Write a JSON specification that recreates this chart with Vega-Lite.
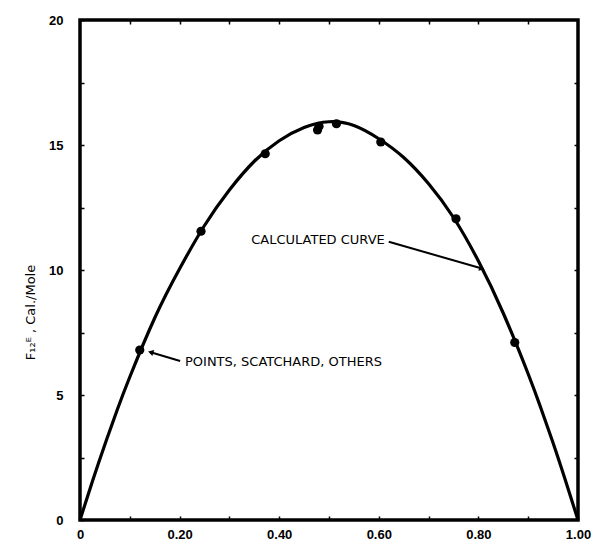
{
  "$schema": "https://vega.github.io/schema/vega-lite/v6.json",
  "width": 498,
  "height": 500,
  "autosize": {"type": "none"},
  "padding": {"left": 80, "top": 20, "right": 15, "bottom": 25},
  "background": "white",
  "config": {
    "view": {"stroke": "black", "strokeWidth": 3.5},
    "axis": {
      "domain": false,
      "grid": false,
      "labelFont": "Liberation Sans",
      "labelFontSize": 13,
      "labelFontWeight": "bold",
      "labelColor": "black",
      "tickColor": "black",
      "tickWidth": 1.5,
      "tickSize": -4,
      "titleFont": "DejaVu Sans",
      "titleFontWeight": "normal",
      "titleFontSize": 13,
      "titleColor": "black"
    }
  },
  "datasets": {
    "curve": [
      {"x": 0.0, "y": 0.0},
      {"x": 0.025, "y": 1.55},
      {"x": 0.05, "y": 3.02},
      {"x": 0.075, "y": 4.42},
      {"x": 0.1, "y": 5.72},
      {"x": 0.15, "y": 8.08},
      {"x": 0.2, "y": 10.05},
      {"x": 0.25, "y": 11.78},
      {"x": 0.3, "y": 13.2},
      {"x": 0.35, "y": 14.35},
      {"x": 0.4, "y": 15.17},
      {"x": 0.45, "y": 15.7},
      {"x": 0.5, "y": 15.93},
      {"x": 0.55, "y": 15.78},
      {"x": 0.6, "y": 15.25},
      {"x": 0.65, "y": 14.5},
      {"x": 0.7, "y": 13.45},
      {"x": 0.75, "y": 12.1},
      {"x": 0.8, "y": 10.36},
      {"x": 0.85, "y": 8.27},
      {"x": 0.9, "y": 5.84},
      {"x": 0.925, "y": 4.5},
      {"x": 0.95, "y": 3.08},
      {"x": 0.975, "y": 1.57},
      {"x": 1.0, "y": 0.0}
    ],
    "points": [
      {"x": 0.12, "y": 6.8},
      {"x": 0.243, "y": 11.55},
      {"x": 0.372, "y": 14.65},
      {"x": 0.477, "y": 15.6},
      {"x": 0.48, "y": 15.75},
      {"x": 0.515, "y": 15.85},
      {"x": 0.604, "y": 15.12},
      {"x": 0.755, "y": 12.05},
      {"x": 0.873, "y": 7.1}
    ],
    "arrows": [
      {"name": "points", "x": 0.201, "y": 6.36, "x2": 0.142, "y2": 6.71},
      {"name": "curve", "x": 0.62, "y": 11.13, "x2": 0.807, "y2": 10.06}
    ],
    "labels": [
      {"name": "points", "x": 0.2108, "y": 6.32, "text": "POINTS, SCATCHARD, OTHERS"},
      {"name": "curve", "x": 0.612, "y": 11.2, "text": "CALCULATED CURVE"}
    ]
  },
  "layer": [
    {
      "data": {"name": "curve"},
      "mark": {"type": "line", "color": "black", "strokeWidth": 3.2, "interpolate": "natural", "clip": false},
      "encoding": {
        "x": {
          "field": "x", "type": "quantitative",
          "scale": {"domain": [0, 1], "nice": false, "zero": false},
          "axis": {
            "orient": "bottom",
            "title": null,
            "values": [0, 0.1, 0.2, 0.3, 0.4, 0.5, 0.6, 0.7, 0.8, 0.9, 1.0],
            "labelExpr": "datum.value == 0 ? '0' : (round(datum.value * 10) % 2 == 0 ? format(datum.value, '.2f') : '')",
            "labelPadding": 12,
            "labelFlush": false,
            "labelOverlap": false
          }
        },
        "y": {
          "field": "y", "type": "quantitative",
          "scale": {"domain": [0, 20], "nice": false},
          "axis": {
            "orient": "left",
            "title": "F₁₂ᴱ , Cal./Mole",
            "values": [0, 2.5, 5, 7.5, 10, 12.5, 15, 17.5, 20],
            "labelExpr": "round(datum.value) % 5 == 0 && datum.value == round(datum.value) ? format(datum.value, 'd') : ''",
            "labelPadding": 21,
            "labelFlush": false,
            "labelOverlap": false,
            "titleY": 292,
            "titlePadding": 11
          }
        }
      }
    },
    {
      "data": {"name": "points"},
      "mark": {"type": "circle", "color": "black", "opacity": 1, "size": 85},
      "encoding": {
        "x": {
          "field": "x", "type": "quantitative",
          "axis": {
            "orient": "top", "title": null, "labels": false,
            "values": [0.1, 0.2, 0.3, 0.4, 0.5, 0.6, 0.7, 0.8, 0.9]
          }
        },
        "y": {
          "field": "y", "type": "quantitative",
          "axis": {
            "orient": "right", "title": null, "labels": false,
            "values": [2.5, 5, 7.5, 10, 12.5, 15, 17.5]
          }
        }
      }
    },
    {
      "data": {"name": "arrows"},
      "mark": {"type": "rule", "color": "black", "strokeWidth": 2},
      "encoding": {
        "x": {"field": "x", "type": "quantitative", "axis": null},
        "y": {"field": "y", "type": "quantitative", "axis": null},
        "x2": {"field": "x2"},
        "y2": {"field": "y2"}
      }
    },
    {
      "data": {"name": "arrows"},
      "transform": [{"filter": "datum.name == 'points'"}],
      "mark": {"type": "point", "shape": "triangle-left", "filled": true, "color": "black", "opacity": 1, "size": 40, "angle": 17},
      "encoding": {
        "x": {"field": "x2", "type": "quantitative", "axis": null},
        "y": {"field": "y2", "type": "quantitative", "axis": null}
      }
    },
    {
      "data": {"name": "arrows"},
      "transform": [{"filter": "datum.name == 'curve'"}],
      "mark": {"type": "point", "shape": "triangle-right", "filled": true, "color": "black", "opacity": 1, "size": 40, "angle": 16},
      "encoding": {
        "x": {"field": "x2", "type": "quantitative", "axis": null},
        "y": {"field": "y2", "type": "quantitative", "axis": null}
      }
    },
    {
      "data": {"name": "labels"},
      "transform": [{"filter": "datum.name == 'points'"}],
      "mark": {"type": "text", "align": "left", "baseline": "middle", "font": "DejaVu Sans", "fontSize": 13, "color": "black"},
      "encoding": {
        "x": {"field": "x", "type": "quantitative", "axis": null},
        "y": {"field": "y", "type": "quantitative", "axis": null},
        "text": {"field": "text"}
      }
    },
    {
      "data": {"name": "labels"},
      "transform": [{"filter": "datum.name == 'curve'"}],
      "mark": {"type": "text", "align": "right", "baseline": "middle", "font": "DejaVu Sans", "fontSize": 13, "color": "black"},
      "encoding": {
        "x": {"field": "x", "type": "quantitative", "axis": null},
        "y": {"field": "y", "type": "quantitative", "axis": null},
        "text": {"field": "text"}
      }
    }
  ],
  "resolve": {"axis": {"x": "independent", "y": "independent"}}
}
